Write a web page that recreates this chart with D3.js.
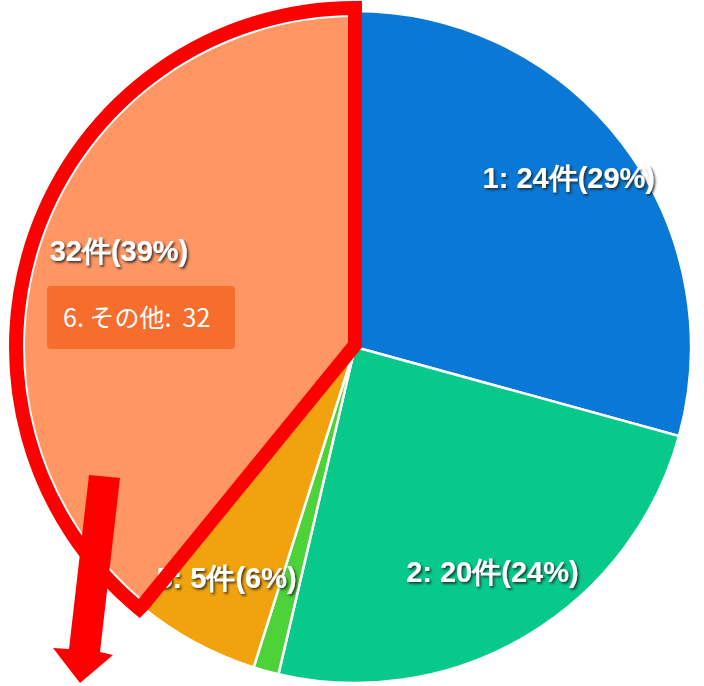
<!DOCTYPE html>
<html><head><meta charset="utf-8">
<script src="https://cdn.jsdelivr.net/npm/d3@7"></script>
<style>body{margin:0;background:#fff}svg{display:block}</style>
</head><body>
<script>
const categories = ["1", "2", "3", "5", "6"];
const values = [24, 20, 1, 5, 32];
const colors = ["#0a78d6", "#06c98a", "#4dd23a", "#f0a30e", "#ff9664"];
const tooltipText = "6. その他:\u00a0\u00a032";

const W = 704, H = 686, cx = 355, cy = 347, R = 336;
const svg = d3.select("body").append("svg").attr("width", W).attr("height", H);
const defs = svg.append("defs");
const f = defs.append("filter").attr("id", "sh").attr("x", "-20%").attr("y", "-50%").attr("width", "140%").attr("height", "200%");
f.append("feDropShadow").attr("dx", 1.6).attr("dy", 1.8).attr("stdDeviation", 1.3).attr("flood-color", "#222").attr("flood-opacity", 0.85);
defs.append("clipPath").attr("id", "pc").append("circle").attr("r", R - 12);

const total = d3.sum(values);
const data = categories.map((c, i) => ({c, v: values[i], col: colors[i]}));
const pie = d3.pie().value(d => d.v).sort(null);
const arc = d3.arc().innerRadius(0).outerRadius(R);
const labelArc = d3.arc().innerRadius(R * 0.8).outerRadius(R * 0.8);
const arcs = pie(data);
const hi = arcs[arcs.length - 1];

const g = svg.append("g").attr("transform", `translate(${cx},${cy})`);
g.selectAll("path.s").data(arcs).join("path").attr("class", "s")
  .attr("d", arc).attr("fill", d => d.data.col).attr("stroke", "#fff").attr("stroke-width", 2.5);

g.selectAll("g.lbl").data(arcs.filter(d => d.data.v / total >= 0.05)).join("g").attr("class", "lbl")
  .attr("clip-path", d => d === hi ? "url(#pc)" : null)
  .append("text")
  .attr("transform", d => `translate(${labelArc.centroid(d)})`)
  .attr("text-anchor", "middle").attr("dy", "0.15em")
  .attr("font-family", "'Liberation Sans', Arial, sans-serif").attr("font-weight", "bold")
  .attr("font-size", 29).attr("fill", "#fff").attr("filter", "url(#sh)")
  .text(d => `${d.data.c}: ${d.data.v}件(${Math.round(d.data.v / total * 100)}%)`);

// tooltip
const tt = svg.append("g").attr("transform", "translate(47,286)");
tt.append("rect").attr("width", 188).attr("height", 63).attr("rx", 4).attr("fill", "#f76a2a").attr("opacity", 0.95);
tt.append("text").attr("x", 16).attr("y", 41).attr("fill", "#fff").attr("font-size", 25)
  .attr("font-family", "'Noto Sans CJK JP', 'Liberation Sans', sans-serif").text(tooltipText);

// red highlight outline around slice 6
const a0 = hi.startAngle, a1 = hi.endAngle;
const wArc = d3.arc().innerRadius(R - 6).outerRadius(R - 3.5).startAngle(a0).endAngle(a1);
g.append("path").attr("d", wArc()).attr("fill", "#fff");

const Ro = R + 3;
const px = a => cx + Ro * Math.sin(a), py = a => cy - Ro * Math.cos(a);
const p = d3.path();
p.moveTo(cx, cy - Ro);
p.lineTo(cx, cy - 2);
p.lineTo(px(a0) + 4, py(a0) - 4);
p.arc(cx, cy, Ro, a0 - Math.PI / 2, a1 - Math.PI / 2);
p.closePath();
svg.append("path").attr("d", p.toString()).attr("fill", "none").attr("stroke", "#ff0000")
  .attr("stroke-width", 14).attr("stroke-linejoin", "miter");

// red arrow
svg.append("path").attr("d", "M89,475 L120,478 L100,652 L113,655 L80,683 L53,648 L69,649 Z").attr("fill", "#ff0000");
</script>
</body></html>
